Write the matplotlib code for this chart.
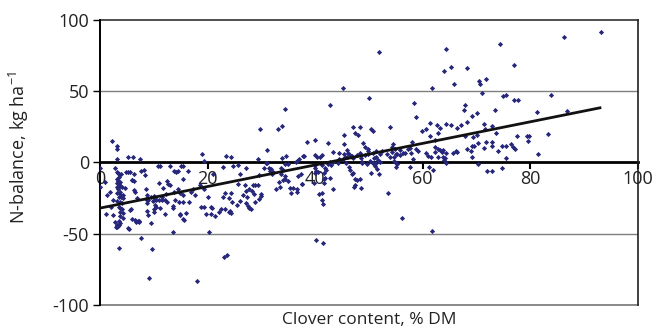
import matplotlib
matplotlib.use("Agg")
import matplotlib.pyplot as plt

plt.rcParams['font.family'] = ['Open Sans', 'DejaVu Sans']
plt.rcParams['mathtext.default'] = 'regular'

# clover content (% of DM) and field N-balance (kg N/ha), one entry per field-year
clover_low = [2.3, 3.2, 3.2, 3.1, 5.2, 6.2, 7.4, 19.0, 19.3,
              0.0, 1.0, 0.0, 1.3, 1.2, 3.6, 7.7, 9.6, 9.1, 18.0, 21.0, 20.3, 5.4, 6.7, 7.3, 5.6,
              8.7, 8.4, 6.4, 5.9, 6.4, 4.8, 5.3, 5.5, 10.8, 11.2, 13.0, 15.0, 15.4, 13.7, 14.2,
              14.5, 16.4, 15.4, 14.9, 11.0, 12.7, 13.1, 12.5, 8.5, 10.0, 10.0, 10.5, 10.9, 11.6,
              12.0, 12.2, 13.8, 13.9, 14.7, 15.4, 16.6, 17.0, 17.7, 18.6, 19.3, 20.0, 12.0, 13.5,
              14.8, 15.6, 15.9, 13.6, 18.8, 19.3, 20.7, 10.2, 10.0, 10.0, 8.7, 8.9, 9.4, 11.2,
              10.5, 8.5, 6.4, 6.6, 11.8, 8.2, 7.6, 6.0, 14.5, 15.5, 17.3, 13.5, 12.5, 11.5, 8.7,
              10.3, 9.9, 9.4, 9.0, 7.0, 6.6, 7.2, 5.7, 6.0, 6.8, 5.3, 14.9, 15.5, 20.6, 20.9,
              21.3, 19.8,
              2.85, 3.1, 3.3, 3.6, 3.9, 3.5, 3.1, 3.4, 3.8, 3.1, 3.5, 3.7, 3.1, 4.0, 4.6, 3.4,
              3.7, 3.2, 3.8, 4.2, 3.5, 3.9, 4.3, 3.1, 3.7, 4.0, 3.5, 3.8, 4.1, 3.8, 4.3, 3.7,
              3.1, 3.3, 3.6, 3.8, 3.2, 2.9, 4.2, 3.6, 1.9, 2.4, 2.1, 2.5, 2.7]
nbal_low = [15.2, 11.9, 9.3, 2.4, 4.0, 4.0, 2.5, 5.8, 1.4,
            -3.7, -14.0, -17.0, -23.0, -36.0, -60.0, -53.0, -60.5, -81.0, -83.0, -8.4, -48.6,
            -47.0, -41.6, -41.6, -33.0, -28.7, -8.9, -8.2, -12.4, -13.0, -7.0, -6.9, -7.0, -2.6,
            -2.6, -2.6, -2.6, -2.6, -6.0, -6.5, -6.3, -6.0, -11.4, -21.7, -14.7, -15.0, -16.0,
            -13.0, -18.5, -23.6, -26.0, -26.0, -26.0, -26.0, -26.0, -22.0, -20.6, -26.0, -28.0,
            -28.0, -28.0, -21.0, -22.7, -16.0, -18.7, -24.5, -36.4, -30.4, -36.4, -40.0, -35.7,
            -49.0, -31.0, -31.5, -36.0, -30.0, -32.7, -34.8, -34.0, -37.0, -42.5, -32.0, -31.0,
            -25.5, -19.4, -20.5, -17.6, -5.5, -5.7, -12.0, -18.8, -23.0, -18.8, -32.0, -28.0,
            -24.0, -22.8, -25.0, -27.0, -24.0, -26.3, -41.0, -40.5, -41.0, -32.9, -39.6, -25.1,
            -46.0, -36.6, -39.8, -31.4, -32.0, -37.7, -36.0,
            -4.1, -6.7, -7.6, -8.1, -8.3, -10.4, -11.8, -12.7, -13.4, -14.6, -15.3, -16.5,
            -16.9, -17.4, -18.1, -18.8, -20.4, -21.6, -22.1, -22.8, -23.9, -24.4, -25.1, -26.8,
            -27.7, -28.6, -31.0, -32.1, -32.8, -34.5, -35.6, -37.5, -43.8, -44.5, -44.0, -42.6,
            -45.4, -45.0, -39.1, -41.0, -21.0, -26.4, -31.0, -37.0, -41.6]

clover_mid = [23.4, 24.3, 25.6, 24.8, 22.9, 26.1, 27.1, 29.4, 31.0, 30.5, 31.4, 31.8, 30.9,
              29.6, 32.2, 31.9, 31.6, 33.7, 34.0, 33.6, 34.4, 34.9, 34.4, 33.2, 33.5, 32.7, 33.9,
              34.6, 34.4, 35.0, 36.7, 37.0, 37.8, 36.5, 37.9, 38.5, 40.0, 40.0, 40.3, 40.9, 41.3,
              39.9, 40.2, 40.6, 40.0, 37.3, 36.9, 37.6, 36.6, 36.6, 35.5, 35.9, 39.7, 40.8, 41.3,
              41.6, 41.6, 41.4, 41.2, 41.8, 41.6, 25.6, 24.3, 23.2, 22.9, 23.9, 24.6, 25.5, 26.1,
              26.9, 26.6, 27.3, 27.1, 27.7, 28.0, 27.6, 28.7, 28.9, 29.6, 29.9, 22.5, 23.2, 22.1,
              24.1, 23.9, 24.3, 23.1, 23.7, 31.0, 28.4, 28.9, 29.3, 27.7, 28.2, 27.2, 30.0, 29.7,
              33.1, 33.9, 34.4, 34.0, 35.3, 37.5, 40.1, 41.5]
nbal_mid = [4.8, 4.1, -2.0, -2.5, -3.4, -7.8, -3.6, 2.7, 8.5, -3.9, -3.6, -4.8, -0.4, -9.0,
            -6.7, -8.1, -6.0, -8.0, -5.3, -3.9, -9.5, -13.2, -11.6, -13.9, -17.4, -18.8, 3.4, 4.3,
            -0.8, -0.8, 0.8, 2.7, 4.3, 0.4, 4.8, 14.6, 15.8, 5.3, 4.1, 4.1, 5.3, -4.1, -5.7, -6.4,
            -7.1, -7.8, -9.5, -15.0, -18.8, -20.9, -21.1, -17.9, -14.6, -22.0, -21.4, -14.6,
            -11.8, -28.9, -26.3, -4.1, -7.6, -15.3, -21.6, -21.1, -23.9, -25.1, -27.7, -29.8,
            -27.0, -15.8, -23.0, -23.9, -28.6, -31.7, -32.4, -30.3, -22.1, -27.7, -25.4, -23.5,
            -32.4, -32.4, -34.5, -33.8, -34.5, -35.6, -66.0, -64.6, -0.6, -16.0, -15.5, -15.5,
            -18.6, -19.7, -20.0, -22.3, 23.3, 23.3, 25.6, 37.7, -12.3, -18.1, -15.3, -54.3, -56.2]

clover_high = [42.8, 58.4, 58.7, 61.3, 62.6, 59.8, 60.6, 62.9, 47.0, 48.3, 47.5, 48.0, 45.4,
               50.3, 50.8, 54.0, 42.3, 45.4, 48.9, 49.2, 44.4, 43.4, 46.0, 46.2, 46.4, 46.0, 45.5,
               46.9, 47.1, 45.2, 48.3, 49.9, 49.8, 48.6, 51.4, 52.0, 51.7, 51.0, 50.2, 50.7, 51.4,
               48.8, 48.8, 49.7, 54.2, 54.4, 54.8, 55.3, 55.8, 56.3, 56.7, 57.3, 57.6, 57.8, 58.8,
               59.2, 60.6, 61.0, 61.5, 62.3, 62.3, 62.9, 62.9, 53.9, 54.6, 55.0, 55.3, 54.6, 53.4,
               42.4, 43.0, 42.7, 42.1, 42.7, 41.8, 43.4, 44.3, 45.8, 46.3, 46.5, 47.1, 46.8, 47.4,
               47.7, 47.4, 48.5, 47.2, 48.3, 50.3, 51.1, 51.5, 51.9, 50.8, 52.0, 53.6, 55.1, 57.6,
               58.2, 61.2, 62.0, 56.1, 61.8, 64.2, 51.9, 45.2, 50.1, 61.8, 45.4, 46.8, 47.7, 49.3,
               49.9, 50.7, 51.3, 52.4, 54.2, 55.0, 55.8, 58.0, 61.3, 63.2, 62.3, 44.5, 43.3, 39.9,
               41.2]
nbal_high = [40.3, 41.5, 31.7, 27.5, 26.3, 22.3, 23.2, 20.4, 24.6, 24.6, 20.4, 19.0, 19.0, 23.2,
             22.0, 24.6, 13.9, 13.0, 13.4, 11.1, 6.9, 7.6, 8.8, 6.9, 5.3, 4.1, 4.1, 4.1, 2.9, 2.2,
             6.4, 9.5, 6.0, 2.9, 4.1, 5.7, 1.8, 2.9, 1.0, -0.6, -0.6, 0.6, -0.6, -1.3, 11.1, 13.0,
             9.2, 6.0, 8.8, 6.4, 6.4, 9.2, 9.9, 6.4, 9.5, 8.3, 6.4, 4.6, 4.1, 7.6, 10.9, 9.2, 3.6,
             4.1, 3.6, -0.6, -1.3, 1.0, 6.0, -1.3, -1.8, 0.6, -5.3, -11.1, -11.1, -18.8, -0.6,
             -0.6, -2.9, -5.3, -7.1, -8.1, -11.8, -12.3, -15.8, -18.1, -16.9, -11.3, -7.1, -2.2,
             -4.6, -8.1, -0.1, 0.6, -21.6, -2.9, -2.9, 2.2, -2.9, -5.3, -38.9, -48.3, 2.9, 77.2,
             52.2, 45.4, 52.2, 6.0, 4.8, 5.0, 5.3, 8.1, 6.9, 8.3, 8.3, 7.4, 5.7, 5.0, 14.1, 18.6,
             23.9, 15.8, 2.2, 0.6, -1.8, -1.8]

clover_top = [64.3, 64.0, 65.3, 68.2, 65.8, 70.5, 70.7, 71.8, 77.0, 71.1, 75.0, 75.4, 77.0,
              77.8, 81.2, 67.9, 67.6, 69.2, 70.0, 68.2, 73.4, 64.3, 65.3, 66.3, 67.1, 71.4, 72.8,
              73.6, 70.0, 69.3, 70.3, 71.7, 72.8, 71.4, 72.8, 67.8, 68.3, 69.1, 68.9, 74.0, 74.7,
              75.5, 76.5, 77.1, 77.6, 79.5, 79.8, 79.3, 75.5, 76.7, 81.5, 70.3, 71.9, 72.8, 74.7,
              69.1, 69.5, 63.2, 63.5, 63.8, 64.3, 63.7, 65.6, 66.1, 66.3, 93.2, 86.3, 74.4, 83.8,
              86.9, 71.6, 83.3, 64.4, 64.0]
nbal_top = [79.8, 64.4, 66.9, 66.0, 55.0, 56.9, 55.0, 58.5, 68.6, 49.0, 46.6, 47.3, 43.8, 43.8,
            35.2, 40.1, 36.8, 32.4, 34.9, 28.2, 36.8, 27.0, 26.3, 24.4, 26.3, 26.8, 25.6, 20.4,
            19.3, 17.6, 13.4, 14.6, 14.6, 10.4, 11.6, 18.6, 9.2, 4.1, 8.3, 8.3, 11.6, 11.6, 13.0,
            9.2, 18.6, 15.3, 18.6, 18.6, 3.4, 11.1, 6.0, -1.3, -6.0, -6.0, -3.6, 11.6, 11.8, 8.8,
            7.6, 8.8, 6.4, 4.1, 6.4, 8.3, 7.6, 91.9, 88.4, 83.3, 47.3, 35.9, 23.2, 19.7, -0.6, 1.8]

clover = clover_low + clover_mid + clover_high + clover_top
nbal = nbal_low + nbal_mid + nbal_high + nbal_top

# linear trend line
trend_intercept = -32.0
trend_slope = 0.757

x_ticks = [0, 20, 40, 60, 80, 100]
y_ticks = [-100, -50, 0, 50, 100]

fig = plt.figure(figsize=(6.6, 3.32), dpi=100)
ax = fig.add_axes([0.1515, 0.0813, 0.815, 0.8585])

ax.set_xlim(0, 100)
ax.set_ylim(-100, 100)

# frame and grid
for yv in (-50, 50):
    ax.axhline(yv, color='#7f7f7f', lw=1.0, zorder=1)
ax.axhline(100, color='#404040', lw=1.3, zorder=1, clip_on=False)
ax.axhline(-100, color='#7f7f7f', lw=1.3, zorder=1, clip_on=False)

ax.spines['top'].set_visible(False)
ax.spines['right'].set_color('#202020')
ax.spines['right'].set_linewidth(1.2)
ax.spines['left'].set_color('black')
ax.spines['left'].set_linewidth(1.4)
ax.spines['bottom'].set_position(('data', 0))
ax.spines['bottom'].set_color('black')
ax.spines['bottom'].set_linewidth(2.0)
ax.spines['bottom'].set_zorder(2)

ax.scatter(clover, nbal, s=7, marker='D', color='#26267a', linewidths=0, zorder=3)

x_end = max(clover)
ax.plot([0, x_end], [trend_intercept, trend_intercept + trend_slope * x_end],
        color='#111111', lw=2.0, zorder=4, solid_capstyle='butt')

ax.set_xticks(x_ticks)
ax.set_yticks(y_ticks)
ax.set_yticklabels([str(v) for v in y_ticks])
ax.tick_params(axis='x', direction='out', length=5, width=1.5, pad=0.5,
               labelsize=13, colors='black', labelcolor='#222222')
ax.tick_params(axis='y', direction='out', length=5, width=1.0, pad=3,
               labelsize=13, labelcolor='#222222')

ax.set_ylabel('N-balance, kg ha$^{-1}$', fontsize=13, color='#222222')
ax.yaxis.set_label_coords(-0.128, 0.554)
fig.text(0.559, 0.035, 'Clover content, % DM', ha='center', va='center',
         fontsize=12.5, color='#222222')

fig.savefig('out.png', dpi=100)
